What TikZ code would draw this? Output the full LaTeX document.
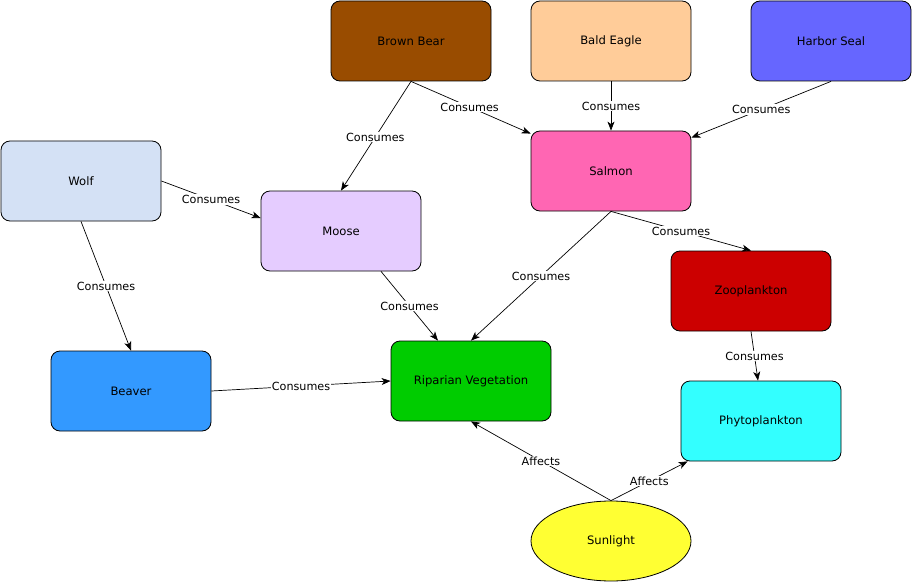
\documentclass[tikz,border=0pt]{standalone}
\usepackage{fontspec}
\setmainfont{DejaVu Sans}
\usetikzlibrary{arrows.meta,shapes.geometric}
\definecolor{cBear}{HTML}{994C00}
\definecolor{cEagle}{HTML}{FFCC99}
\definecolor{cSeal}{HTML}{6666FF}
\definecolor{cWolf}{HTML}{D4E1F5}
\definecolor{cSalmon}{HTML}{FF66B3}
\definecolor{cMoose}{HTML}{E5CCFF}
\definecolor{cZoo}{HTML}{CC0000}
\definecolor{cBeaver}{HTML}{3399FF}
\definecolor{cRip}{HTML}{00CC00}
\definecolor{cPhyto}{HTML}{33FFFF}
\definecolor{cSun}{HTML}{FFFF33}
\begin{document}
\begin{tikzpicture}[x=1pt,y=-1pt,
  box/.style={draw=black,line width=0.8pt,rounded corners=9pt,minimum width=160pt,minimum height=80pt,inner sep=0pt,font=\fontsize{11.6}{13}\selectfont},
  oval/.style={draw=black,line width=0.8pt,ellipse,minimum width=160pt,minimum height=80pt,inner sep=0pt,font=\fontsize{11.6}{13}\selectfont},
  link/.style={line width=0.7pt,-{Stealth[length=9pt,width=7pt,inset=2.5pt]}},
  lbl/.style={fill=white,inner sep=1pt,font=\fontsize{11.2}{12}\selectfont}]
\useasboundingbox (0,0) rectangle (913,583);
\node[box,fill=cBear] (bear) at (411,41) {Brown Bear};
\node[box,fill=cEagle] (eagle) at (611,41) {Bald Eagle};
\node[box,fill=cSeal] (seal) at (831,41) {Harbor Seal};
\node[box,fill=cWolf] (wolf) at (81,181) {Wolf};
\node[box,fill=cSalmon] (salmon) at (611,171) {Salmon};
\node[box,fill=cMoose] (moose) at (341,231) {Moose};
\node[box,fill=cZoo] (zoo) at (751,291) {Zooplankton};
\node[box,fill=cBeaver] (beaver) at (131,391) {Beaver};
\node[box,fill=cRip] (rip) at (471,381) {Riparian Vegetation};
\node[box,fill=cPhyto] (phyto) at (761,421) {Phytoplankton};
\node[oval,fill=cSun] (sun) at (611,541) {Sunlight};

\draw[link] (bear.south) -- node[lbl,pos=0.51]{Consumes} (moose.north);
\draw[link] (bear.south) -- node[lbl,pos=0.49]{Consumes} ([yshift=-3pt]salmon.north west);
\draw[link] (eagle.south) -- node[lbl]{Consumes} (salmon.north);
\draw[link] (seal.south) -- node[lbl,pos=0.5]{Consumes} ([yshift=-7pt]salmon.north east);
\draw[link] (wolf.east) -- node[lbl,pos=0.5]{Consumes} ([yshift=13pt]moose.west);
\draw[link] (wolf.south) -- node[lbl,pos=0.5]{Consumes} (beaver.north);
\draw[link] (salmon.south) -- node[lbl,pos=0.5]{Consumes} (rip.north);
\draw[link] (salmon.south) -- node[lbl,pos=0.5]{Consumes} (zoo.north);
\draw[link] ([xshift=40pt]moose.south) -- node[lbl,pos=0.5]{Consumes} ([xshift=-33pt]rip.north);
\draw[link] (zoo.south) -- node[lbl,pos=0.5]{Consumes} ([xshift=-3pt]phyto.north);
\draw[link] (beaver.east) -- node[lbl,pos=0.5]{Consumes} (rip.west);
\draw[link] (sun.north) -- node[lbl,pos=0.5]{Affects} (rip.south);
\draw[link] (sun.north) -- node[lbl,pos=0.5]{Affects} ([xshift=7pt]phyto.south west);
\end{tikzpicture}
\end{document}
